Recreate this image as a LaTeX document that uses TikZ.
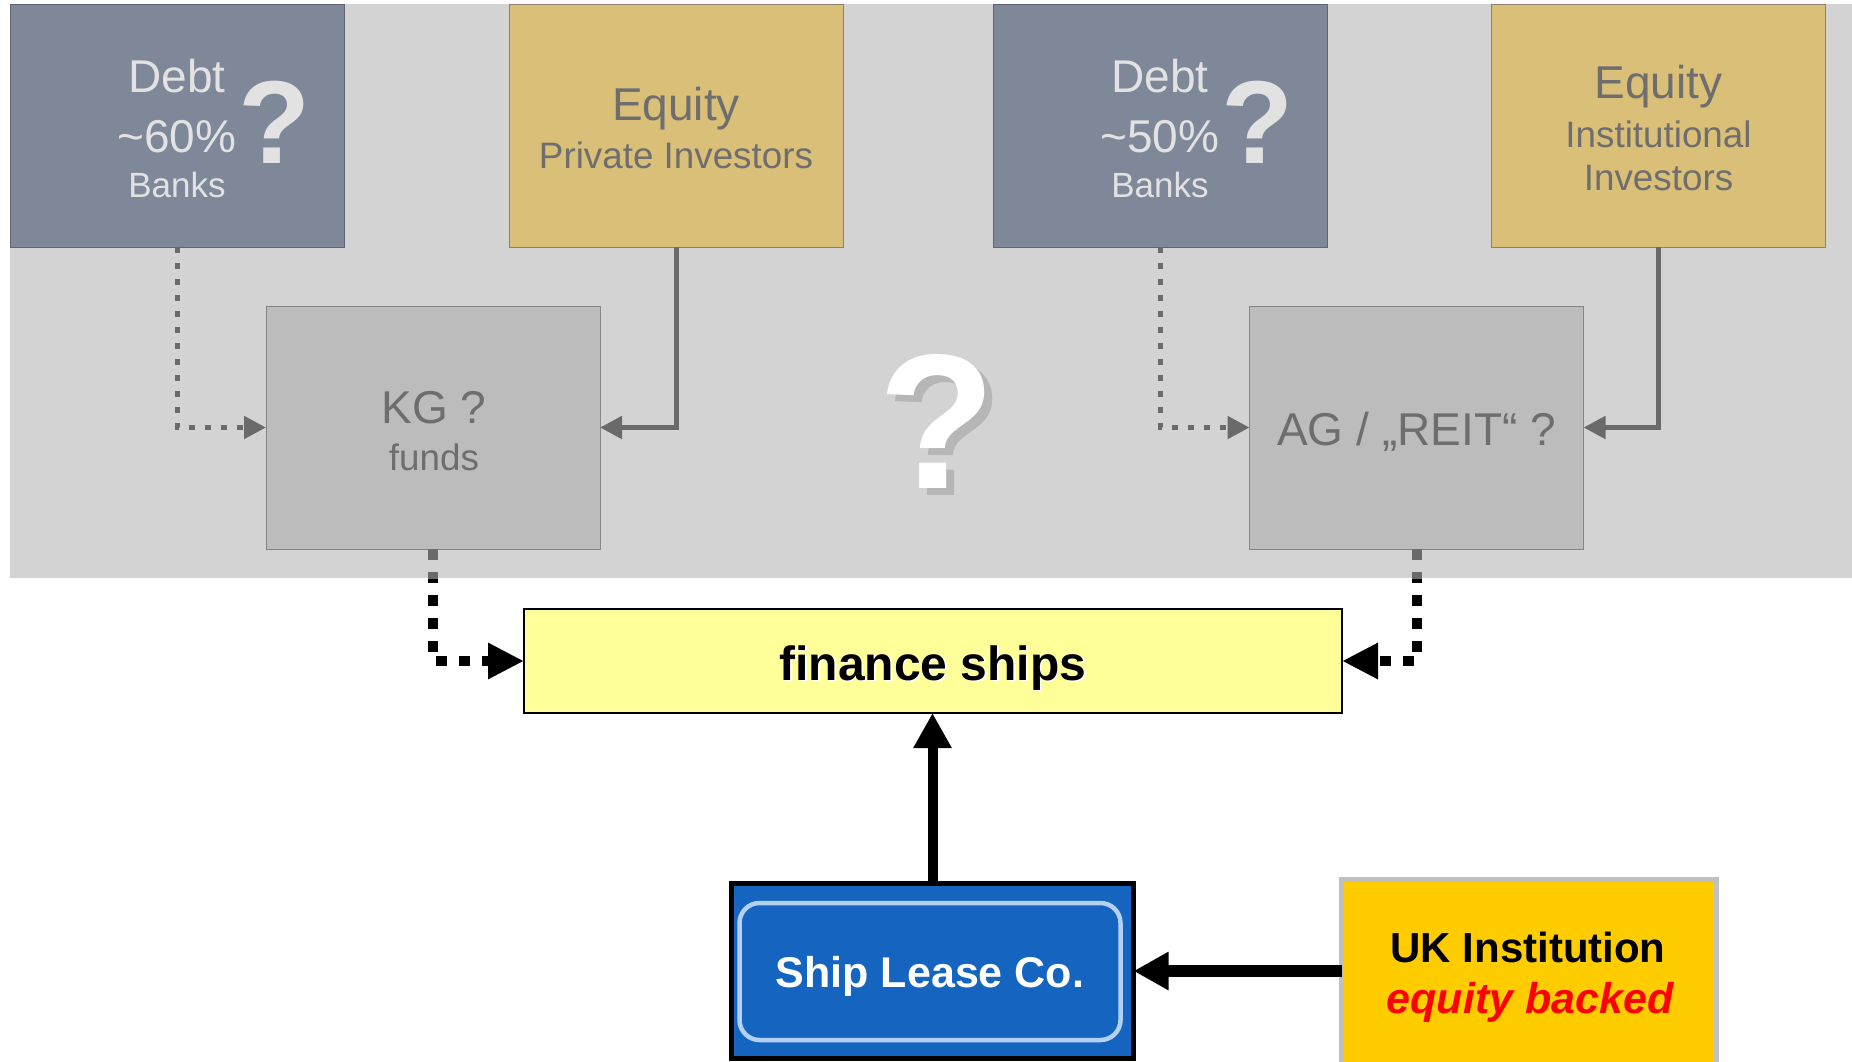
\documentclass[tikz,border=0pt]{standalone}
\usepackage{fontspec}
\setmainfont{Liberation Sans}
\usetikzlibrary{arrows.meta}

\definecolor{bgveil}{HTML}{D3D3D3}
\definecolor{debtfill}{HTML}{7E8899}
\definecolor{debtline}{HTML}{5E6676}
\definecolor{eqfill}{HTML}{D9BF78}
\definecolor{eqline}{HTML}{8C826E}
\definecolor{vehfill}{HTML}{BCBCBC}
\definecolor{vehline}{HTML}{858585}
\definecolor{fadetext}{HTML}{E2E2E2}
\definecolor{graytext}{HTML}{6E6E6E}
\definecolor{flowgray}{HTML}{6A6A6A}
\definecolor{finfill}{HTML}{FFFF99}
\definecolor{leaseblue}{HTML}{1565C0}
\definecolor{leaserim}{HTML}{B4D0F4}
\definecolor{ukfill}{HTML}{FFCC00}
\definecolor{ukrim}{HTML}{C0C0C0}
\definecolor{qshadow}{HTML}{B6B6B6}

\newcommand\fsz[1]{\fontsize{#1pt}{#1pt}\selectfont}
% text with a copy of itself set behind it, shifted by #1 right and #2 down
\newcommand\shadowed[4]{\rlap{\kern#1\raisebox{-#2}{\textcolor{#3}{#4}}}#4}

\tikzset{
  box/.style={rectangle, inner sep=0pt, outer sep=0pt},
  debtbox/.style={box, fill=debtfill, draw=debtline, line width=0.5pt,
    minimum width=167pt, minimum height=121.5pt},
  eqbox/.style={box, fill=eqfill, draw=eqline, line width=0.5pt,
    minimum width=167pt, minimum height=121.5pt},
  vehbox/.style={box, fill=vehfill, draw=vehline, line width=0.5pt,
    minimum width=167pt, minimum height=121.5pt},
  finbox/.style={box, fill=finfill, draw=black, line width=1pt,
    minimum width=409pt, minimum height=52pt},
  shipbox/.style={box, fill=leaseblue, draw=black, line width=2.5pt,
    minimum width=201pt, minimum height=87.5pt},
  shiprim/.style={box, draw=leaserim, line width=2.25pt, rounded corners=10pt,
    minimum width=190.5pt, minimum height=68.5pt},
  ukbox/.style={box, fill=ukfill, draw=ukrim, line width=2.5pt,
    minimum width=187.5pt, minimum height=93.25pt},
  lbl/.style={inner sep=0pt, outer sep=0pt, anchor=base},
  bigtxt/.style={font=\fsz{23}},
  smalltxt/.style={font=\fsz{18.4}},
  qmark/.style={font=\bfseries\fsz{59}, text=fadetext},
  debtflow/.style={draw=flowgray, line width=2.5pt, dash pattern=on 3pt off 5pt,
    -{Triangle[length=11pt,width=11pt]}, color=flowgray},
  eqflow/.style={draw=flowgray, line width=2.5pt,
    -{Triangle[length=11pt,width=11pt]}, color=flowgray},
  shipflow/.style={draw=black, line width=5pt, dash pattern=on 5.5pt off 6pt,
    -{Triangle[length=18pt,width=17pt]}},
  leaseflow/.style={draw=black, -{Triangle[length=17.5pt,width=18pt]}},
}

\begin{document}
\begin{tikzpicture}[x=0.5pt, y=-0.5pt]
\useasboundingbox (0,0) rectangle (1852,1061);

% faded upper panel
\fill[bgveil] (10,4) rectangle (1852,578);

% sources of capital
\node[debtbox] (debtA) at (177,125.5) {};
\node[eqbox]   (eqA)   at (676,125.5) {};
\node[debtbox] (debtB) at (1160,125.5) {};
\node[eqbox]   (eqB)   at (1658.5,125.5) {};

% vehicles
\node[vehbox] (kg) at (433,427.5) {};
\node[vehbox] (ag) at (1416.5,427.5) {};

% labels: first debt box
\node[lbl, bigtxt, text=fadetext] (debtA1) at (177,92) {Debt};
\node[lbl, bigtxt, text=fadetext] (debtA2) at (177,152) {\textasciitilde 60\%};
\node[lbl, font=\fsz{17.5}, text=fadetext] (debtA3) at (177,197) {Banks};
\node[lbl, qmark] (debtAq) at (275,163) {?};

% labels: first equity box
\node[lbl, bigtxt, text=graytext] (eqA1) at (676,120) {Equity};
\node[lbl, smalltxt, text=graytext] (eqA2) at (676,168) {Private Investors};

% labels: second debt box
\node[lbl, bigtxt, text=fadetext] (debtB1) at (1160,92) {Debt};
\node[lbl, bigtxt, text=fadetext] (debtB2) at (1160,152) {\textasciitilde 50\%};
\node[lbl, font=\fsz{17.5}, text=fadetext] (debtB3) at (1160,197) {Banks};
\node[lbl, qmark] (debtBq) at (1258,163) {?};

% labels: second equity box
\node[lbl, bigtxt, text=graytext] (eqB1) at (1658.5,98) {Equity};
\node[lbl, smalltxt, text=graytext] (eqB2) at (1658.5,147) {Institutional};
\node[lbl, smalltxt, text=graytext] (eqB3) at (1658.5,190) {Investors};

% labels: vehicles
\node[lbl, bigtxt, text=graytext] (kg1) at (434,423) {KG ?};
\node[lbl, smalltxt, text=graytext] (kg2) at (434,470) {funds};
\node[lbl, bigtxt, text=graytext] (ag1) at (1416.5,445) {AG / „REIT“ ?};

% central question mark with its shadow
\node[lbl, font=\bfseries\fsz{96}, text=white] (bigq) at (937,488)
  {\shadowed{4pt}{3.5pt}{qshadow}{?}};

% flows into the vehicles
\draw[debtflow] (debtA.south) |- (kg.west);
\draw[eqflow]   (eqA.south)   |- (kg.east);
\draw[debtflow] (debtB.south) |- (ag.west);
\draw[eqflow]   (eqB.south)   |- (ag.east);

% target box
\node[finbox] (fin) at (933,661) {};
\node[lbl, font=\bfseries\fsz{24}, text=black] (finT) at (933,680)
  {\shadowed{0.75pt}{0.75pt}{white}{finance ships}};

% vehicles feeding the target
\draw[shipflow] (kg.south) |- (fin.west);
\draw[shipflow] (ag.south) |- (fin.east);
\begin{scope}
  \clip (10,4) rectangle (1852,578);
  \draw[shipflow, draw=flowgray, -] (kg.south) |- (fin.west);
  \draw[shipflow, draw=flowgray, -] (ag.south) |- (fin.east);
\end{scope}

% lease company
\node[shipbox] (ship) at (932.5,971) {};
\node[shiprim] (shipIn) at (930,971.5) {};
\node[lbl, font=\bfseries\fsz{21.5}, text=white] (shipT) at (930,987) {Ship Lease Co.};

% UK institution
\node[ukbox] (uk) at (1529,972.75) {};
\node[lbl, font=\bfseries\fsz{21}, text=black] (ukT1) at (1528,962) {UK Institution};
\node[lbl, font=\bfseries\itshape\fsz{21.5}, text=red] (ukT2) at (1530,1013) {equity backed};

% solid flows
\draw[leaseflow, line width=5pt] (ship.north) -- (ship.north |- fin.south);
\draw[leaseflow, line width=6pt] (uk.west |- ship.east) -- (ship.east);
\end{tikzpicture}
\end{document}
